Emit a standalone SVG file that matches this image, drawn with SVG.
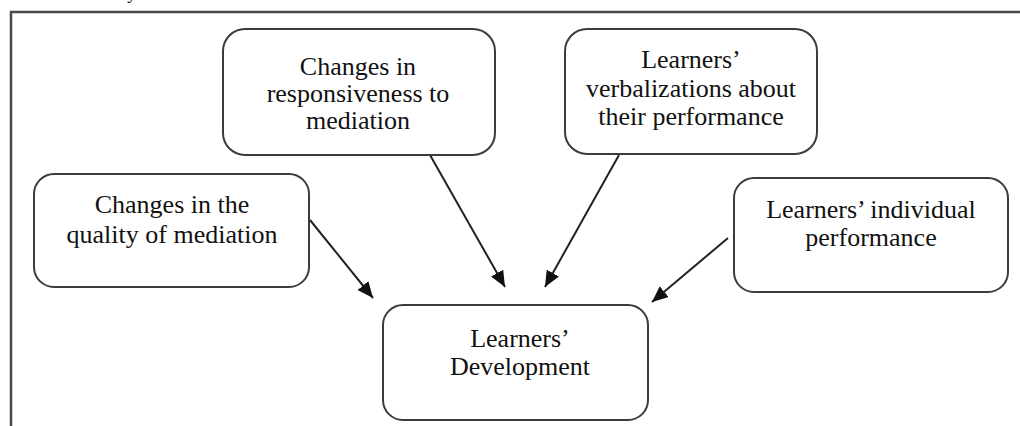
<svg xmlns="http://www.w3.org/2000/svg" width="1020" height="426" viewBox="0 0 1020 426">
<style>
.box{fill:#fff;stroke:#3c3c3c;stroke-width:2}
.t{font-family:"Liberation Serif","Times New Roman",serif;font-size:26px;fill:#111;text-anchor:middle}
.c{stroke:#222;stroke-width:2;fill:none;marker-end:url(#ah)}
.frame{stroke:#4a4a4a;stroke-width:2.5;fill:none}
</style>
<defs>
<marker id="ah" markerUnits="userSpaceOnUse" markerWidth="18" markerHeight="16" refX="16" refY="7" orient="auto">
<path d="M0,0 L16,7 L0,14 Z" fill="#111"/>
</marker>
</defs>
<rect width="1020" height="426" fill="#fff"/>
<text x="129" y="-1" style="font-family:'Liberation Serif',serif;font-size:18px;font-style:italic;fill:#222">y</text>
<path class="frame" d="M11,426 L11,12 L1020,12"/>
<g id="connectors">
<line class="c" x1="310" y1="220" x2="373" y2="298"/>
<line class="c" x1="430" y1="155" x2="505" y2="287"/>
<line class="c" x1="619" y1="155" x2="545" y2="287"/>
<line class="c" x1="728" y1="238" x2="652" y2="302"/>
</g>
<g id="node-quality">
<rect class="box" x="34" y="174" width="275" height="113" rx="20"/>
<text class="t" x="172" y="213">Changes in the</text>
<text class="t" x="172" y="243">quality of mediation</text>
</g>
<g id="node-responsiveness">
<rect class="box" x="223" y="29" width="272" height="126" rx="22"/>
<text class="t" x="358" y="75">Changes in</text>
<text class="t" x="358" y="102">responsiveness to</text>
<text class="t" x="358" y="129">mediation</text>
</g>
<g id="node-verbalizations">
<rect class="box" x="565" y="29" width="252" height="125" rx="22"/>
<text class="t" x="691" y="68">Learners’</text>
<text class="t" x="691" y="97">verbalizations about</text>
<text class="t" x="691" y="125">their performance</text>
</g>
<g id="node-individual">
<rect class="box" x="734" y="178" width="274" height="114" rx="20"/>
<text class="t" x="871" y="218">Learners’ individual</text>
<text class="t" x="871" y="246">performance</text>
</g>
<g id="node-development">
<rect class="box" x="383" y="305" width="265" height="115" rx="20"/>
<text class="t" x="520" y="347">Learners’</text>
<text class="t" x="520" y="375">Development</text>
</g>
</svg>
